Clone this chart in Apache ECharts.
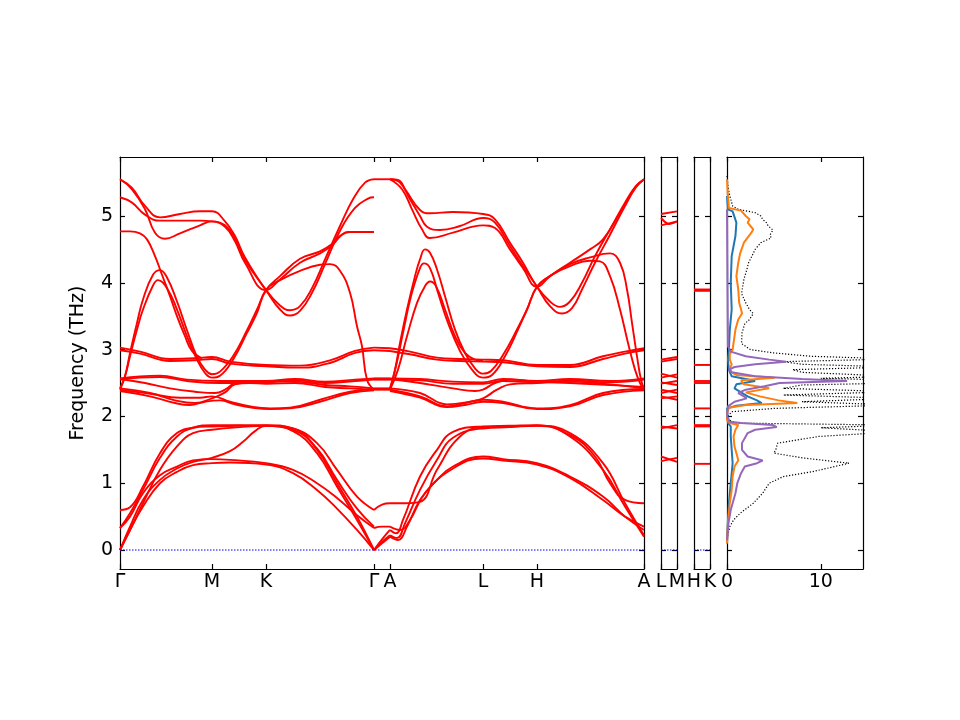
<!DOCTYPE html>
<html>
<head>
<meta charset="utf-8">
<script src="https://cdn.jsdelivr.net/npm/echarts@6/dist/echarts.min.js"></script>
<style>
  html, body { margin: 0; padding: 0; background: #fff; }
  #chart { width: 960px; height: 720px; }
</style>
</head>
<body>
<div id="chart"></div>
<script>
// 高对称点
const kTicks = [0, 92, 146, 254, 270, 363, 417, 524];
const kLabels = ['Γ', 'M', 'K', 'Γ', 'A', 'L', 'H', 'A'];

// Γ-M-K-Γ 段, [k, THz]
const upperGMKG = [
  [[0,5.55],[12,5.42],[25,5.15],[40,4.98],[60,5.03],[80,5.07],[92,5.07],[105,4.92],[115,4.7],[125,4.38],[146,3.89],[160,3.66],[170,3.59],[180,3.65],[192,3.92],[205,4.35],[220,4.85],[233,5.25],[245,5.5],[254,5.55]],
  [[0,5.28],[12,5.2],[25,5.02],[40,4.93],[60,4.93],[80,4.93],[92,4.92],[105,4.86],[115,4.66],[125,4.34],[146,3.89],[160,3.6],[170,3.51],[180,3.58],[192,3.85],[205,4.28],[220,4.78],[235,5.12],[248,5.26],[254,5.28]],
  [[0,5.55],[12,5.4],[25,5.1],[35,4.75],[45,4.66],[60,4.74],[80,4.86],[92,4.92],[105,4.84],[115,4.62],[125,4.3],[146,3.89],[160,4.05],[180,4.3],[200,4.44],[212,4.56],[222,4.72],[230,4.76],[254,4.76]],
  [[0,2.4],[5,2.6],[10,2.95],[17,3.4],[23,3.75],[33,4.12],[40,4.19],[47,4.08],[57,3.72],[67,3.29],[77,2.89],[85,2.7],[92,2.63],[100,2.67],[113,2.9],[127,3.29],[137,3.6],[146,3.89],[160,4.1],[180,4.36],[200,4.47],[212,4.58],[220,4.7],[228,4.76],[254,4.76]],
  [[0,2.42],[5,2.6],[10,2.9],[17,3.3],[23,3.6],[33,3.96],[38,4.04],[47,3.92],[57,3.6],[67,3.2],[77,2.85],[85,2.65],[92,2.58],[100,2.61],[113,2.85],[127,3.25],[137,3.55],[146,3.89],[160,4.04],[180,4.18],[200,4.27],[210,4.28],[220,4.18],[230,3.85],[237,3.35],[242,3.05],[247,2.55],[254,2.4]],
  [[0,4.77],[10,4.77],[20,4.74],[27,4.65],[35,4.4],[42,4.12],[50,3.8],[57,3.5],[65,3.2],[72,2.98],[82,2.87]]
];
const clusterGMKG = [
  [[0,3.03],[20,2.97],[50,2.86],[75,2.87],[92,2.89],[110,2.82],[146,2.77],[180,2.76],[210,2.84],[235,2.98],[254,3.03]],
  [[0,2.99],[20,2.94],[50,2.83],[75,2.84],[92,2.86],[110,2.79],[146,2.75],[180,2.73],[210,2.8],[235,2.95],[254,2.99]],
  [[0,2.57],[20,2.6],[40,2.61],[67,2.55],[100,2.53],[146,2.53],[175,2.56],[205,2.52],[235,2.55],[254,2.57]],
  [[0,2.55],[20,2.58],[40,2.59],[67,2.53],[100,2.5],[146,2.51],[175,2.54],[205,2.5],[235,2.53],[254,2.55]],
  [[0,2.56],[25,2.5],[50,2.42],[75,2.37],[95,2.35],[105,2.4],[115,2.5],[130,2.53],[146,2.52],[175,2.52],[205,2.47],[230,2.45],[254,2.42]],
  [[0,2.42],[30,2.35],[55,2.24],[75,2.2],[92,2.27],[105,2.36],[115,2.48],[130,2.5],[146,2.49],[175,2.5],[205,2.44],[230,2.42],[254,2.4]],
  [[0,2.4],[30,2.34],[60,2.28],[80,2.28],[92,2.3],[110,2.22],[133,2.14],[150,2.12],[170,2.13],[200,2.25],[230,2.37],[254,2.41]],
  [[0,2.38],[30,2.3],[55,2.2],[70,2.17],[85,2.22],[100,2.24],[115,2.18],[133,2.13],[150,2.11],[170,2.12],[200,2.22],[230,2.35],[254,2.39]]
];
const lowerGMKG = [
  [[0,0],[10,0.3],[23,0.65],[40,1.0],[57,1.17],[73,1.27],[92,1.3],[110,1.31],[146,1.28],[173,1.15],[197,0.9],[217,0.62],[237,0.3],[254,0]],
  [[0,0],[10,0.35],[23,0.75],[40,1.05],[57,1.22],[73,1.32],[92,1.38],[110,1.48],[123,1.62],[135,1.78],[146,1.86],[173,1.82],[197,1.5],[217,1.0],[237,0.5],[254,0]],
  [[0,0],[10,0.3],[23,0.7],[40,1.2],[57,1.55],[73,1.75],[92,1.8],[120,1.84],[146,1.86],[173,1.78],[197,1.45],[217,0.95],[237,0.45],[254,0]],
  [[0,0.33],[10,0.5],[23,0.85],[40,1.12],[57,1.25],[73,1.34],[92,1.36],[110,1.35],[146,1.3],[173,1.2],[197,1.0],[217,0.78],[237,0.52],[254,0.33]],
  [[0,0.6],[10,0.64],[23,0.95],[40,1.45],[57,1.75],[73,1.83],[92,1.85],[120,1.86],[146,1.87],[173,1.82],[197,1.6],[217,1.2],[237,0.8],[254,0.6]],
  [[0,0.33],[10,0.55],[23,0.9],[40,1.38],[57,1.7],[73,1.83],[92,1.87],[120,1.87],[146,1.86],[173,1.8],[197,1.52],[217,1.05],[237,0.62],[254,0.35]]
];

// Γ-A 段
const bandsGA = [
  [[254,5.55],[270,5.55]],
  [[254,3.03],[270,3.02]],
  [[254,2.99],[270,2.98]],
  [[254,2.57],[270,2.57]],
  [[254,2.55],[270,2.55]],
  [[254,2.42],[270,2.42]],
  [[254,2.4],[270,2.4]],
  [[254,0],[262,0.16],[270,0.3]],
  [[254,0],[262,0.12],[270,0.22]],
  [[254,0],[262,0.1],[270,0.2]],
  [[254,0.33],[262,0.35],[270,0.35]],
  [[254,0.6],[262,0.68],[270,0.7]]
];

// A-L-H-A 段
const upperALHA = [
  [[270,5.55],[278,5.54],[286,5.38],[300,5.09],[310,5.04],[333,5.06],[363,5.03],[375,4.95],[390,4.6],[403,4.3],[417,3.94],[430,3.72],[440,3.64],[450,3.72],[462,4.0],[475,4.4],[490,4.8],[505,5.2],[516,5.45],[524,5.55]],
  [[270,5.55],[280,5.5],[290,5.25],[300,5.0],[307,4.84],[320,4.79],[340,4.85],[363,4.97],[375,4.9],[390,4.55],[403,4.25],[417,3.94],[430,3.65],[442,3.54],[452,3.62],[462,3.9],[475,4.3],[490,4.72],[505,5.15],[516,5.43],[524,5.55]],
  [[270,5.55],[282,5.4],[292,5.1],[302,4.8],[310,4.67],[333,4.75],[363,4.86],[375,4.82],[390,4.5],[403,4.22],[417,3.94],[430,4.1],[450,4.3],[470,4.5],[483,4.65],[500,5.05],[514,5.4],[524,5.55]],
  [[270,2.42],[275,2.7],[280,3.1],[287,3.6],[295,4.1],[300,4.35],[305,4.5],[310,4.45],[317,4.2],[325,3.8],[335,3.3],[345,2.95],[355,2.72],[363,2.64],[371,2.68],[383,2.92],[397,3.3],[407,3.6],[417,3.94],[430,4.1],[450,4.28],[470,4.38],[490,4.44],[500,4.3],[507,3.9],[512,3.4],[517,2.9],[521,2.55],[524,2.42]],
  [[270,2.4],[276,2.75],[283,3.25],[291,3.8],[300,4.22],[304,4.29],[310,4.22],[318,3.85],[328,3.4],[340,2.98],[352,2.7],[363,2.58],[372,2.62],[385,2.9],[398,3.3],[407,3.6],[417,3.94],[432,4.12],[450,4.25],[470,4.33],[480,4.32],[490,4.1],[500,3.6],[508,3.1],[515,2.7],[520,2.5],[524,2.4]],
  [[270,2.4],[278,2.7],[287,3.2],[297,3.7],[305,3.95],[310,4.02],[316,3.95],[325,3.6],[335,3.2],[345,2.95],[355,2.85],[363,2.83]]
];
const clusterALHA = [
  [[270,3.02],[290,2.97],[317,2.88],[340,2.86],[363,2.85],[383,2.84],[417,2.77],[450,2.77],[483,2.9],[505,2.97],[524,3.02]],
  [[270,2.98],[290,2.93],[317,2.85],[340,2.83],[363,2.82],[383,2.81],[417,2.75],[450,2.74],[483,2.86],[505,2.94],[524,2.99]],
  [[270,2.57],[300,2.56],[333,2.52],[363,2.51],[383,2.56],[417,2.53],[450,2.56],[490,2.53],[524,2.57]],
  [[270,2.55],[300,2.54],[333,2.49],[363,2.49],[383,2.53],[417,2.51],[450,2.54],[490,2.51],[524,2.55]],
  [[270,2.56],[300,2.5],[333,2.42],[355,2.38],[363,2.4],[375,2.5],[390,2.55],[417,2.52],[450,2.5],[490,2.47],[524,2.44]],
  [[270,2.42],[300,2.35],[327,2.18],[350,2.22],[363,2.27],[377,2.4],[390,2.48],[417,2.5],[450,2.52],[490,2.48],[524,2.42]],
  [[270,2.4],[300,2.3],[327,2.15],[345,2.2],[363,2.25],[383,2.22],[417,2.12],[450,2.17],[483,2.35],[524,2.41]],
  [[270,2.38],[300,2.28],[327,2.14],[345,2.17],[363,2.22],[383,2.2],[417,2.11],[450,2.15],[483,2.32],[524,2.39]]
];
const lowerALHA = [
  [[270,0.3],[276,0.25],[283,0.45],[300,1.1],[317,1.5],[333,1.77],[363,1.85],[390,1.86],[417,1.87],[450,1.7],[483,1.2],[505,0.65],[524,0.2]],
  [[270,0.22],[277,0.18],[285,0.4],[300,0.9],[317,1.35],[333,1.68],[363,1.82],[390,1.84],[417,1.86],[450,1.75],[483,1.3],[505,0.7],[524,0.22]],
  [[270,0.2],[278,0.15],[287,0.35],[300,0.75],[317,1.05],[333,1.25],[363,1.4],[383,1.36],[417,1.3],[450,1.1],[483,0.8],[505,0.5],[524,0.3]],
  [[270,0.35],[280,0.3],[290,0.45],[305,0.85],[333,1.22],[363,1.37],[383,1.34],[417,1.28],[450,1.08],[483,0.75],[505,0.5],[524,0.35]],
  [[270,0.7],[285,0.7],[300,0.72],[317,1.2],[340,1.7],[363,1.84],[390,1.85],[417,1.86],[450,1.72],[475,1.4],[490,1.0],[505,0.75],[524,0.7]]
];

// L-M 小段 (0 = L, 1 = M)
const bandsLM = [
  [[0,5.03],[1,5.07]], [[0,4.97],[0.5,4.88],[1,4.92]], [[0,4.86],[1,4.92]],
  [[0,2.85],[1,2.89]], [[0,2.82],[1,2.86]],
  [[0,2.64],[1,2.58]], [[0,2.58],[1,2.63]],
  [[0,2.51],[1,2.47]], [[0,2.49],[1,2.53]],
  [[0,2.4],[1,2.35]], [[0,2.35],[1,2.4]],
  [[0,2.27],[1,2.3]], [[0,2.3],[1,2.25]],
  [[0,1.85],[1,1.82]], [[0,1.82],[1,1.87]],
  [[0,1.4],[1,1.32]], [[0,1.33],[1,1.38]]
];
// H-K 小段 (平带)
const levelsHK = [3.88, 3.9, 2.77, 2.5, 2.53, 2.12, 1.85, 1.87, 1.29];

// 态密度 [THz, DOS]
const dosTotal = [
  [5.6,0],[5.45,0.1],[5.3,0.3],[5.15,0.6],[5.1,1.2],[5.05,3.0],[5.0,3.6],[4.95,3.8],[4.9,4.2],[4.85,4.4],[4.79,4.9],[4.72,4.6],[4.67,4.7],
  [4.6,3.6],[4.5,3.0],[4.44,2.8],[4.3,2.3],[4.19,2.1],[4.05,1.8],[3.84,1.55],[3.7,2.0],[3.6,2.4],[3.54,2.8],[3.45,2.4],[3.39,1.9],
  [3.25,1.6],[3.09,1.55],[3.0,2.5],[2.95,5.0],[2.9,9],[2.86,18],[2.82,6],[2.78,8],[2.74,18],[2.7,7],[2.66,8],[2.6,18],[2.57,10],
  [2.52,25],[2.47,8],[2.42,6],[2.37,18],[2.32,6],[2.27,18],[2.22,8],[2.17,18],[2.12,5],[2.07,0.5],[2.0,0.1],[1.95,0.2],[1.9,1],
  [1.87,18],[1.83,10],[1.77,18],[1.7,9.8],[1.6,5.4],[1.5,5.2],[1.45,5.0],[1.38,8],[1.3,13],[1.25,11.5],[1.17,9],[1.1,6],
  [1.0,4.5],[0.85,3.8],[0.7,2.8],[0.55,1.4],[0.45,0.7],[0.35,0.3],[0.2,0.05],[0.1,0]
];
const dosOrange = [
  [5.55,0],[5.3,0.1],[5.12,0.2],[5.08,1.5],[5.0,2.0],[4.95,2.4],[4.9,2.2],[4.85,2.5],[4.8,2.8],[4.75,2.6],[4.6,1.8],[4.44,1.4],
  [4.3,1.2],[4.1,1.0],[3.9,1.2],[3.7,1.3],[3.6,1.5],[3.54,1.6],[3.45,1.2],[3.3,0.9],[3.1,0.7],[3.0,0.6],[2.93,0.3],[2.85,0.3],
  [2.78,0.5],[2.72,0.3],[2.66,0.5],[2.62,1.0],[2.58,5.1],[2.54,1.5],[2.48,1.8],[2.42,4.5],[2.36,2.0],[2.3,3.5],[2.24,5.5],
  [2.2,7.5],[2.17,2.0],[2.13,0.2],[2.05,0],[1.95,0],[1.9,0.3],[1.87,1.2],[1.8,0.9],[1.7,0.7],[1.55,0.8],[1.4,1.1],[1.34,1.2],
  [1.25,0.8],[1.1,0.6],[0.9,0.5],[0.7,0.3],[0.4,0.1],[0.1,0]
];
const dosBlue = [
  [5.3,0],[5.1,0.1],[5.07,0.6],[4.9,1.0],[4.7,0.9],[4.4,0.5],[4.0,0.4],[3.6,0.5],[3.3,0.3],[3.0,0.2],[2.85,0.1],[2.7,0.2],
  [2.6,0.5],[2.56,2.0],[2.53,3.0],[2.48,1.0],[2.42,0.8],[2.36,1.5],[2.3,2.2],[2.24,3.2],[2.2,3.7],[2.16,1.0],[2.12,0],
  [1.9,0.1],[1.85,0.4],[1.7,0.4],[1.5,0.5],[1.3,0.6],[1.0,0.4],[0.7,0.2],[0.3,0.05],[0.1,0]
];
const dosPurple = [
  [5.1,0],[4.0,0.05],[3.05,0.1],[2.97,0.4],[2.9,2.0],[2.85,4.5],[2.82,6.3],[2.78,3.0],[2.74,0.8],[2.7,0.2],[2.66,0.5],[2.6,3.0],
  [2.56,8.0],[2.53,12.8],[2.5,5.6],[2.45,4.0],[2.4,2.0],[2.35,1.2],[2.3,1.8],[2.27,2.1],[2.22,0.8],[2.15,0.1],[2.0,0],[1.92,0.3],
  [1.9,1.5],[1.87,4.9],[1.84,5.3],[1.8,3.0],[1.75,2.2],[1.6,1.6],[1.5,1.6],[1.4,2.2],[1.34,3.8],[1.3,3.2],[1.25,1.9],[1.15,1.5],
  [1.0,1.1],[0.85,0.9],[0.6,0.4],[0.4,0.15],[0.15,0]
];

const yMin = -0.284, yMax = 5.883;
const font = 'DejaVu Sans';
const chart = echarts.init(document.getElementById('chart'), null, { renderer: 'canvas' });

// 面板位置
const panels = [
  { left: 120, width: 524 },
  { left: 661, width: 16 },
  { left: 694, width: 16 },
  { left: 727, width: 136 }
];
const grids = panels.map(p => ({ left: p.left, width: p.width, top: 157, height: 412 }));

const lineAxis = { show: true, onZero: false, lineStyle: { color: '#000', width: 1.2 } };
const tickIn = { show: true, inside: true, length: 5, lineStyle: { color: '#000', width: 1.2 } };
const labelStyle = { color: '#000', fontSize: 19, fontFamily: font };

function xPair(g, min, max, ticks, fmt) {
  return [
    { gridIndex: g, type: 'value', position: 'bottom', min: min, max: max,
      axisLine: lineAxis, splitLine: { show: false },
      axisTick: Object.assign({ customValues: ticks }, tickIn),
      axisLabel: Object.assign({ customValues: ticks, margin: 4, formatter: fmt,
        showMinLabel: true, showMaxLabel: true }, labelStyle) },
    { gridIndex: g, type: 'value', position: 'top', min: min, max: max,
      axisLine: lineAxis, splitLine: { show: false },
      axisTick: Object.assign({ customValues: ticks }, tickIn),
      axisLabel: { show: false } }
  ];
}
function yPair(g, showLabel) {
  let left = { gridIndex: g, type: 'value', position: 'left', min: yMin, max: yMax,
    axisLine: lineAxis, splitLine: { show: false },
    axisTick: Object.assign({ customValues: [0, 1, 2, 3, 4, 5] }, tickIn),
    axisLabel: showLabel ? Object.assign({ customValues: [0, 1, 2, 3, 4, 5], margin: 7 }, labelStyle) : { show: false } };
  if (showLabel) {
    left.name = 'Frequency (THz)';
    left.nameLocation = 'middle';
    left.nameGap = 32;
    left.nameTextStyle = labelStyle;
  }
  let right = { gridIndex: g, type: 'value', position: 'right', min: yMin, max: yMax,
    axisLine: lineAxis, splitLine: { show: false },
    axisTick: Object.assign({ customValues: [0, 1, 2, 3, 4, 5] }, tickIn),
    axisLabel: { show: false } };
  return [left, right];
}

const xAxes = [].concat(
  xPair(0, 0, 524, kTicks, v => kLabels[kTicks.indexOf(v)]),
  xPair(1, 0, 1, [0, 1], v => (v === 0 ? 'L' : 'M')),
  xPair(2, 0, 1, [0, 1], v => (v === 0 ? 'H' : 'K')),
  xPair(3, 0, 14.5, [0, 10], v => String(v))
);
const yAxes = [].concat(yPair(0, true), yPair(1, false), yPair(2, false), yPair(3, false));

let series = [];
function addBand(g, data, smooth) {
  series.push({
    type: 'line', xAxisIndex: 2 * g, yAxisIndex: 2 * g, data: data,
    showSymbol: false, symbol: 'none', smooth: smooth,
    lineStyle: { color: '#ff0000', width: 1.9 }, silent: true, z: 3
  });
}
[upperGMKG, clusterGMKG, lowerGMKG, bandsGA, upperALHA, clusterALHA, lowerALHA].forEach(set => {
  set.forEach(b => addBand(0, b, 0.45));
});
bandsLM.forEach(b => addBand(1, b, 0.3));
levelsHK.forEach(f => addBand(2, [[0, f], [1, f]], false));

// 零频率参考线
[[0, 524], [0, 1], [0, 1]].forEach((r, g) => {
  series.push({
    type: 'line', xAxisIndex: 2 * g, yAxisIndex: 2 * g, data: [[r[0], 0], [r[1], 0]],
    showSymbol: false, symbol: 'none', silent: true, z: 4,
    lineStyle: { color: '#0000ff', width: 1.1, type: [1.5, 1.5] }
  });
});

// 态密度
function addDos(data, color, width, type, z) {
  series.push({
    type: 'line', xAxisIndex: 6, yAxisIndex: 6, data: data.map(p => [p[1], p[0]]),
    showSymbol: false, symbol: 'none', silent: true, z: z, clip: true,
    lineStyle: { color: color, width: width, type: type }
  });
}
addDos(dosTotal, '#000000', 1.2, [1.2, 1.8], 3);
addDos(dosBlue, '#1f77b4', 2, 'solid', 4);
addDos(dosOrange, '#ff7f0e', 2, 'solid', 5);
addDos(dosPurple, '#9467bd', 2, 'solid', 6);

chart.setOption({
  animation: false,
  backgroundColor: '#ffffff',
  textStyle: { fontFamily: font },
  grid: grids,
  xAxis: xAxes,
  yAxis: yAxes,
  series: series
});
</script>
</body>
</html>
